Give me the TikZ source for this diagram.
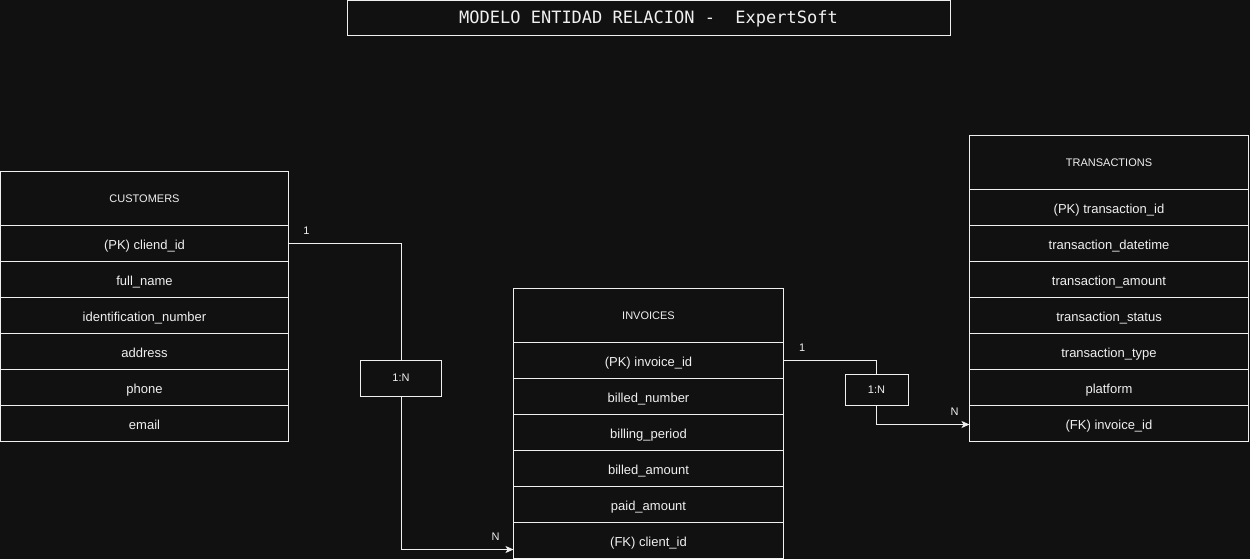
\documentclass[tikz,border=0pt]{standalone}
\usepackage{fontspec}
\setmainfont{Liberation Sans}
\newfontfamily\titlefont{DejaVu Sans Mono}
\usetikzlibrary{positioning,arrows.meta}
\definecolor{bgdark}{HTML}{111111}
\definecolor{fgline}{HTML}{F0F0F0}

\begin{document}
\begin{tikzpicture}[x=1pt,y=-1pt,line width=1pt,node distance=0pt,
    every node/.style={text=fgline},
    entity/.style={draw=fgline,fill=bgdark,outer sep=0pt,minimum width=#1,minimum height=54pt,
      font=\fontsize{11}{13}\selectfont},
    attr/.style={draw=fgline,fill=bgdark,outer sep=0pt,minimum width=#1,minimum height=36pt,
      text height=12pt,text depth=1pt,font=\fontsize{13}{15}\selectfont},
    rel/.style={draw=fgline,fill=bgdark,outer sep=0pt,minimum width=#1,
      font=\fontsize{11}{13}\selectfont},
    card/.style={font=\fontsize{11}{13}\selectfont,inner sep=2pt},
    headline/.style={draw=fgline,fill=bgdark,minimum width=603pt,minimum height=35pt,
      font=\titlefont\fontsize{17}{20}\selectfont},
    conn/.style={draw=fgline,line width=1pt},
    >={Stealth[length=8pt,width=7pt,inset=2pt]}]

    \fill[bgdark] (0,0) rectangle (1250,559);
    \useasboundingbox (0,0) rectangle (1250,559);

    \node[headline] (head) at (648.5,18.5) {\raisebox{-1pt}{MODELO ENTIDAD RELACION -\ \ ExpertSoft}};

    % customers
    \node[entity=288pt,anchor=north west] (cust) at (0.5,171.5) {CUSTOMERS};
    \node[attr=288pt,below=of cust]  (cust1) {(PK) cliend\_id};
    \node[attr=288pt,below=of cust1] (cust2) {full\_name};
    \node[attr=288pt,below=of cust2] (cust3) {identification\_number};
    \node[attr=288pt,below=of cust3] (cust4) {address};
    \node[attr=288pt,below=of cust4] (cust5) {phone};
    \node[attr=288pt,below=of cust5] (cust6) {email};

    % invoices
    \node[entity=270pt,anchor=north west] (inv) at (513.5,288.5) {INVOICES};
    \node[attr=270pt,below=of inv]  (inv1) {(PK) invoice\_id};
    \node[attr=270pt,below=of inv1] (inv2) {billed\_number};
    \node[attr=270pt,below=of inv2] (inv3) {billing\_period};
    \node[attr=270pt,below=of inv3] (inv4) {billed\_amount};
    \node[attr=270pt,below=of inv4] (inv5) {paid\_amount};
    \node[attr=270pt,below=of inv5] (inv6) {(FK) client\_id};

    % transactions
    \node[entity=279pt,anchor=north west] (tr) at (969.5,135.5) {TRANSACTIONS};
    \node[attr=279pt,below=of tr]  (tr1) {(PK) transaction\_id};
    \node[attr=279pt,below=of tr1] (tr2) {transaction\_datetime};
    \node[attr=279pt,below=of tr2] (tr3) {transaction\_amount};
    \node[attr=279pt,below=of tr3] (tr4) {transaction\_status};
    \node[attr=279pt,below=of tr4] (tr5) {transaction\_type};
    \node[attr=279pt,below=of tr5] (tr6) {platform};
    \node[attr=279pt,below=of tr6] (tr7) {(FK) invoice\_id};

    % relations
    \node[rel=81pt,minimum height=36pt] (rel1) at (401,378) {1:N};
    \node[rel=63pt,minimum height=31pt] (rel2) at (876.5,389.5) {1:N};

    \draw[conn] (cust1.east) -| node[card,pos=0.08,above=7pt] {1} (rel1.north);
    \draw[conn,->] (rel1.south) |- node[card,pos=0.92,above=7pt] {N} ([yshift=-9pt]inv6.west);
    \draw[conn] (inv1.east) -| node[card,pos=0.1,above=7pt] {1} (rel2.north);
    \draw[conn,->] (rel2.south) |- node[card,pos=0.92,above=7pt] {N} ([yshift=-1pt]tr7.west);
\end{tikzpicture}
\end{document}
